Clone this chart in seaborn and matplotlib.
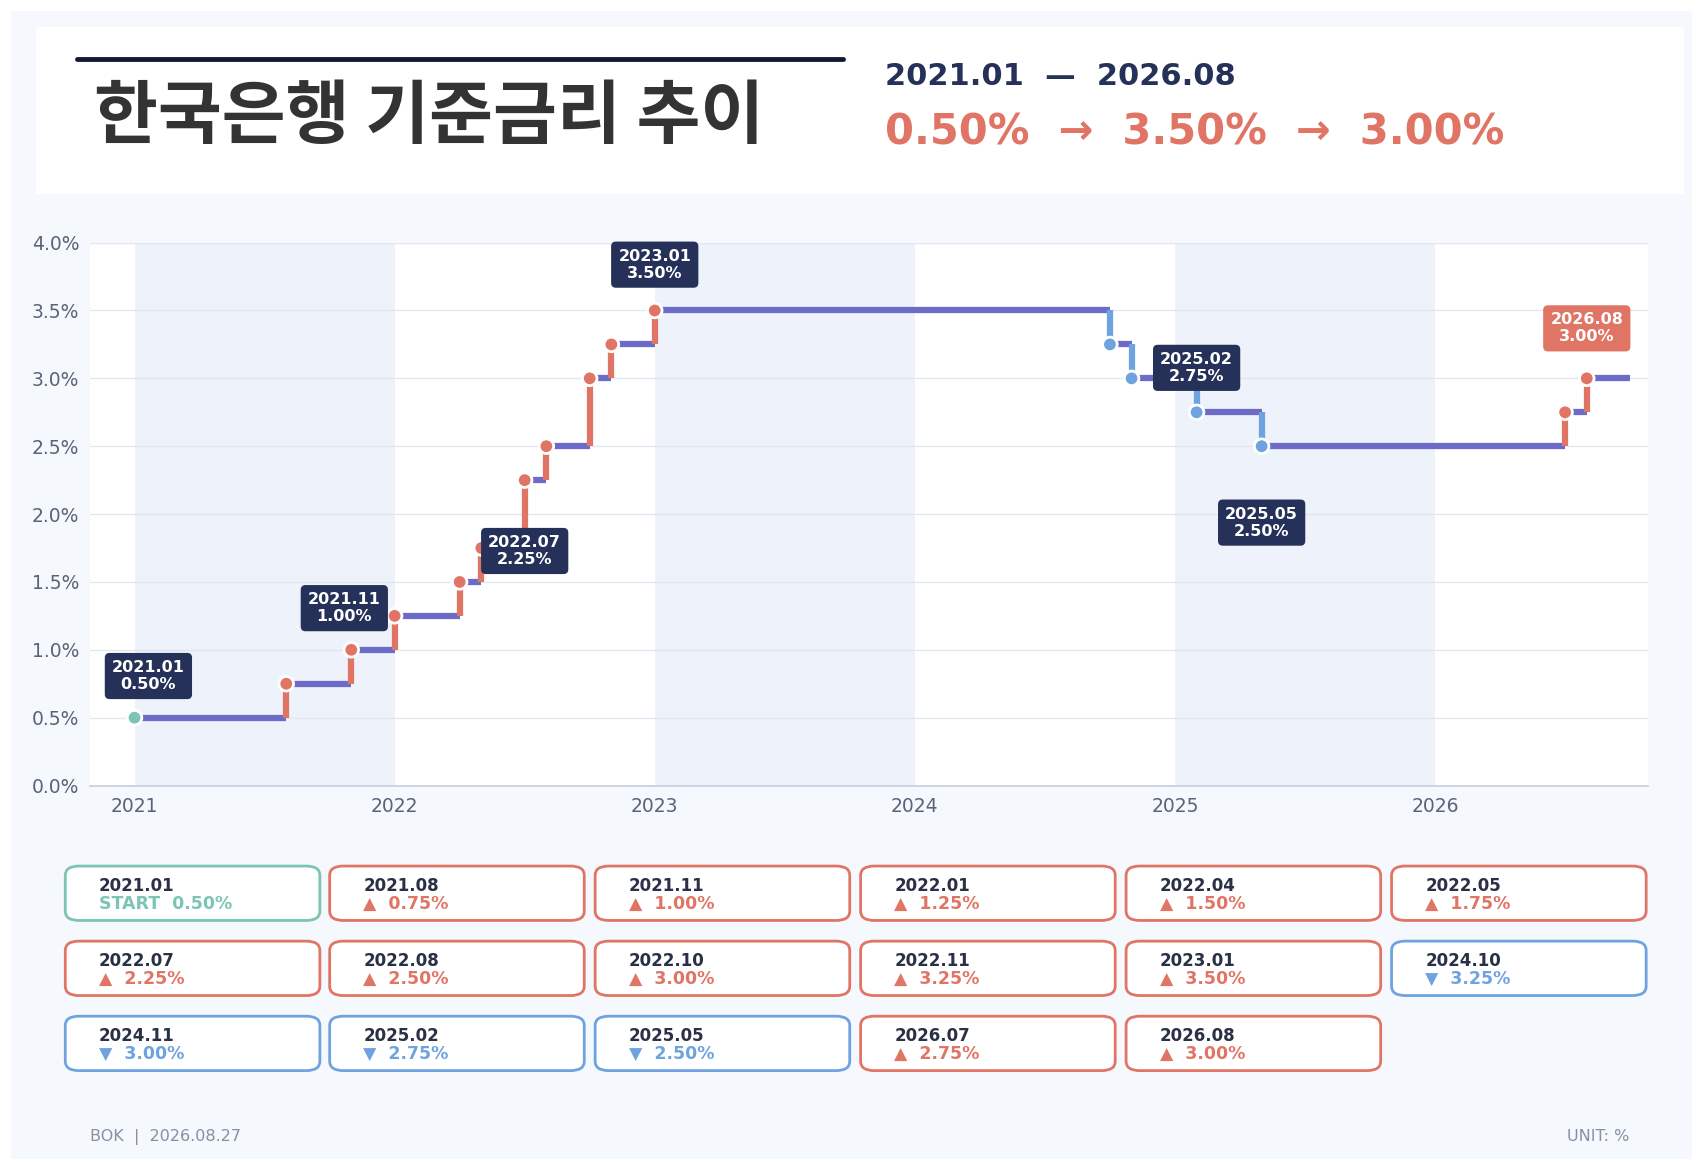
import numpy as np
import pandas as pd
import matplotlib
matplotlib.use("Agg")
import matplotlib.pyplot as plt
from matplotlib.patches import FancyBboxPatch, Rectangle
import seaborn as sns

# --- data ---
dates = ["2021.01", "2021.08", "2021.11", "2022.01", "2022.04", "2022.05",
         "2022.07", "2022.08", "2022.10", "2022.11", "2023.01", "2024.10",
         "2024.11", "2025.02", "2025.05", "2026.07", "2026.08"]
rates = [0.50, 0.75, 1.00, 1.25, 1.50, 1.75, 2.25, 2.50, 3.00, 3.25, 3.50,
         3.25, 3.00, 2.75, 2.50, 2.75, 3.00]
end_date = "2026.10"
labeled = ["2021.01", "2021.11", "2022.07", "2023.01", "2025.02", "2025.05", "2026.08"]
year_ticks = [2021, 2022, 2023, 2024, 2025, 2026]
y_ticks = [0.0, 0.5, 1.0, 1.5, 2.0, 2.5, 3.0, 3.5, 4.0]

def to_year(s):
    y, m = s.split(".")
    return int(y) + (int(m) - 1) / 12

df = pd.DataFrame({"date": dates, "rate": rates})
df["t"] = df["date"].map(to_year)
df["kind"] = ["start"] + ["up" if b > a else "down" for a, b in zip(rates[:-1], rates[1:])]

NAVY = "#253158"
RED = "#e07565"
BLUE = "#6fa3e0"
TEAL = "#7cc4b4"
PURPLE = "#6c6bc8"
BG = "#f5f8fd"
colors = {"start": TEAL, "up": RED, "down": BLUE}

sns.set_theme(style="white")
plt.rcParams["font.family"] = ["DejaVu Sans", "Noto Sans CJK KR"]

W, H = 1568, 1068
fig = plt.figure(figsize=(17.06, 11.62), dpi=100)
fig.patch.set_facecolor("white")

def fx(x): return x / W
def fy(y): return 1 - y / H

fig.add_artist(Rectangle((fx(10), fy(1065)), fx(1545), 1055 / H, transform=fig.transFigure,
                         facecolor=BG, edgecolor="none", zorder=0))
fig.add_artist(Rectangle((fx(33), fy(178)), fx(1515), 153 / H, transform=fig.transFigure,
                         facecolor="white", edgecolor="none", zorder=0))
fig.add_artist(plt.Line2D([fx(71), fx(775)], [fy(54), fy(54)], transform=fig.transFigure,
                          color="#151a33", lw=3.5))
fig.text(fx(86), fy(108), "한국은행 기준금리 추이", fontsize=50, fontweight="bold",
         color="#333333", family=["Noto Sans CJK KR"], va="center", ha="left")
fig.text(fx(813), fy(70), f"{dates[0]}  —  {dates[-1]}", fontsize=22, fontweight="bold",
         color=NAVY, va="center")
fig.text(fx(813), fy(122), f"{rates[0]:.2f}%  →  {max(rates):.2f}%  →  {rates[-1]:.2f}%",
         fontsize=30, fontweight="bold", color=RED, va="center")

# --- chart ---
ax = fig.add_axes([fx(83), fy(722), fx(1515 - 83), (722 - 223) / H])
ax.set_facecolor("white")
for y0 in year_ticks[::2]:
    ax.axvspan(y0, y0 + 1, color="#eef3fb", zorder=0, lw=0)
for yv in y_ticks:
    ax.axhline(yv, color="#e1e6f0", lw=1, zorder=0.5)

ts = list(df["t"]) + [to_year(end_date)]
for i in range(len(df)):
    ax.plot([ts[i], ts[i + 1]], [rates[i], rates[i]], color=PURPLE, lw=4.5,
            solid_capstyle="butt", zorder=2)
    if i > 0:
        ax.plot([ts[i], ts[i]], [rates[i - 1], rates[i]], color=colors[df["kind"][i]],
                lw=4.5, solid_capstyle="butt", zorder=2)
sns.scatterplot(data=df, x="t", y="rate", hue="kind", palette=colors, s=110,
                edgecolor="white", linewidth=2, legend=False, zorder=4, ax=ax)

offsets = {"2021.01": (10, 30), "2021.11": (-5, 30), "2022.07": (0, -51),
           "2023.01": (0, 33), "2025.02": (0, 32), "2025.05": (0, -55), "2026.08": (0, 36)}
for d in labeled:
    r = df[df["date"] == d].iloc[0]
    fc = RED if d == dates[-1] else NAVY
    ax.annotate(f"{d}\n{r['rate']:.2f}%", (r["t"], r["rate"]), xytext=offsets[d],
                textcoords="offset points", ha="center", va="center", fontsize=11.5,
                fontweight="bold", color="white", linespacing=1.15, zorder=6,
                bbox=dict(boxstyle="round,pad=0.45,rounding_size=0.3", fc=fc, ec="none"))

ax.set_xlim(2020.83, 2026.82)
ax.set_ylim(0, 4.0)
ax.set_xticks(year_ticks)
ax.set_xticklabels([str(y) for y in year_ticks])
ax.set_yticks(y_ticks)
ax.set_yticklabels([f"{v:.1f}%" for v in y_ticks])
ax.tick_params(labelsize=13.5, colors="#5a6378", length=0, pad=8)
ax.set_xlabel("")
ax.set_ylabel("")
for s in ["top", "right", "left"]:
    ax.spines[s].set_visible(False)
ax.spines["bottom"].set_color("#c9d0de")

# --- cards ---
col_x = [60, 303, 547, 791, 1035, 1279]
row_y = [796, 865, 934]
cw, ch = 234, 50
for i, (d, r, k) in enumerate(zip(df["date"], df["rate"], df["kind"])):
    x0 = col_x[i % 6]
    y0 = row_y[i // 6]
    c = colors[k]
    fig.add_artist(FancyBboxPatch((fx(x0), fy(y0 + ch)), fx(cw), ch / H,
                                  boxstyle="round,pad=0,rounding_size=0.008",
                                  transform=fig.transFigure, fc="white", ec=c, lw=2))
    fig.text(fx(x0 + 31), fy(y0 + 18), d, fontsize=12, fontweight="bold", color="#2a3045",
             va="center")
    if k == "start":
        val = f"START  {r:.2f}%"
    elif k == "up":
        val = f"▲  {r:.2f}%"
    else:
        val = f"▼  {r:.2f}%"
    fig.text(fx(x0 + 31), fy(y0 + 35), val, fontsize=12.5, fontweight="bold", color=c,
             va="center")

fig.text(fx(83), fy(1045), "BOK  |  2026.08.27", fontsize=11.5, color="#8790a3", va="center")
fig.text(fx(1498), fy(1045), "UNIT: %", fontsize=11.5, color="#8790a3", va="center", ha="right")

fig.savefig("out.png", dpi=100, facecolor=fig.get_facecolor())
